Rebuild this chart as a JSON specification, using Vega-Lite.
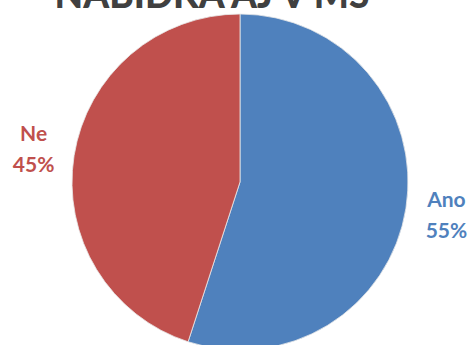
{
  "$schema": "https://vega.github.io/schema/vega-lite/v6.json",
  "autosize": "none",
  "width": 480,
  "height": 336,
  "padding": {"top": 14, "left": 0, "right": 0, "bottom": 0},
  "background": "white",
  "title": {
    "text": "NABÍDKA AJ V MŠ",
    "fontSize": 37,
    "font": "Lato",
    "fontWeight": 900,
    "color": "#404040",
    "anchor": "middle",
    "dx": -28,
    "offset": -33,
    "baseline": "alphabetic"
  },
  "data": {
    "values": [
      {"kategorie": "Ano", "podil": 55, "label": "Ano\n55%", "poradi": 1},
      {"kategorie": "Ne", "podil": 45, "label": "Ne\n45%", "poradi": 2}
    ]
  },
  "encoding": {
    "theta": {"field": "podil", "type": "quantitative", "stack": true},
    "order": {"field": "poradi", "type": "ordinal"},
    "color": {
      "field": "kategorie",
      "type": "nominal",
      "scale": {"domain": ["Ano", "Ne"], "range": ["#4F81BD", "#C0504D"]},
      "legend": null
    }
  },
  "layer": [
    {
      "mark": {"type": "arc", "outerRadius": 168, "stroke": "#e8e8e8", "strokeWidth": 0.8}
    },
    {
      "mark": {"type": "text", "radius": 209, "dy": -14, "font": "Lato", "fontWeight": "bold", "fontSize": 21, "lineBreak": "\n", "lineHeight": 31, "baseline": "middle", "align": "center"},
      "encoding": {"text": {"field": "label"}}
    }
  ],
  "config": {"view": {"stroke": null}}
}
